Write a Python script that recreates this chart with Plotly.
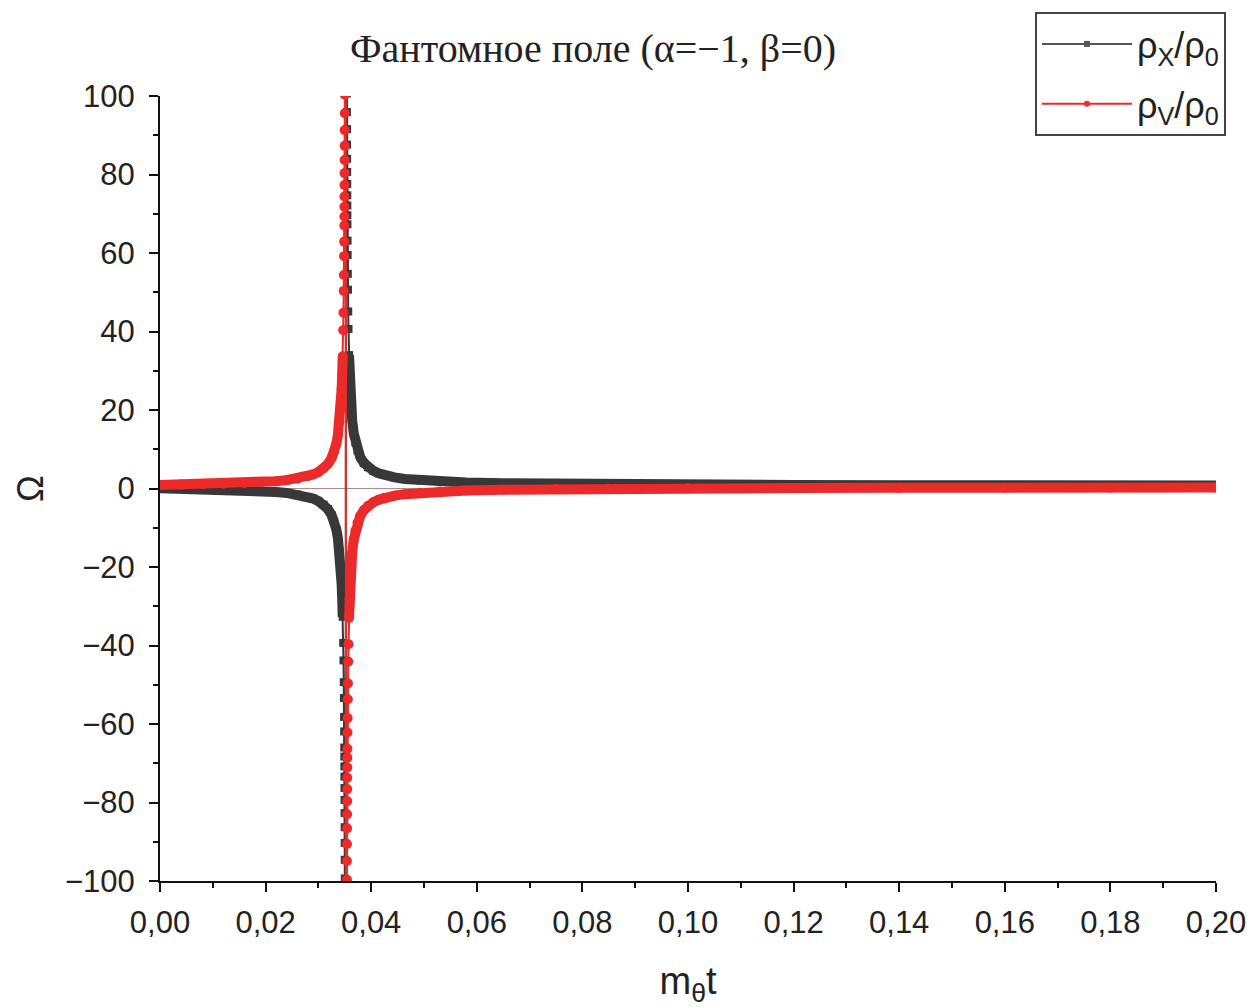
import plotly.graph_objects as go

# ---- data (t = m_theta * t) ----
# left of the pole
t_left = [0.000, 0.004, 0.008, 0.012, 0.016, 0.019, 0.022, 0.024, 0.026, 0.028,
          0.029, 0.030, 0.031, 0.0318, 0.0325, 0.0330, 0.0334, 0.0337, 0.0340, 0.0342,
          0.0344, 0.0345, 0.0346, 0.0347, 0.03475, 0.0348, 0.03483, 0.03486, 0.03488, 0.0349,
          0.03491, 0.03492, 0.03493, 0.03494, 0.03495, 0.03496, 0.03497, 0.03498, 0.03499, 0.0350,
          0.03515]
rhoX_left = [0.08, 0.01, -0.09, -0.21, -0.39, -0.58, -0.87, -1.14, -1.52, -2.13,
             -2.58, -3.20, -4.11, -5.23, -6.76, -8.44, -10.46, -12.68, -16.02, -19.35,
             -24.35, -27.92, -32.68, -39.35, -43.8, -49.35, -53.4, -58.2, -61.9, -66.0,
             -68.3, -70.8, -73.4, -76.3, -79.35, -82.7, -86.3, -90.3, -94.6, -99.35,
             -399.4]
rhoV_left = [0.92, 0.99, 1.09, 1.21, 1.39, 1.58, 1.87, 2.14, 2.52, 3.13,
             3.58, 4.20, 5.11, 6.23, 7.76, 9.44, 11.46, 13.68, 17.02, 20.35,
             25.35, 28.92, 33.68, 40.35, 44.8, 50.35, 54.4, 59.2, 62.9, 67.0,
             69.3, 71.8, 74.4, 77.3, 80.35, 83.7, 87.3, 91.3, 95.6, 100.35,
             400.4]
# right of the pole
t_right = [0.03525, 0.0354, 0.03541, 0.03542, 0.03543, 0.03544, 0.03545, 0.03546, 0.03547, 0.03548,
           0.03549, 0.0355, 0.03552, 0.03554, 0.03557, 0.0356, 0.03565, 0.0357, 0.0358, 0.0359,
           0.0360, 0.0362, 0.0364, 0.0367, 0.0370, 0.0374, 0.0379, 0.0386, 0.0394, 0.0404,
           0.0414, 0.0424, 0.0444, 0.0464, 0.0492, 0.053, 0.058, 0.065, 0.075, 0.085,
           0.100, 0.120, 0.140, 0.160, 0.180, 0.200]
rhoX_right = [400.6, 100.65, 95.9, 91.56, 87.6, 84.0, 80.65, 77.6, 74.7, 72.1,
              69.6, 67.3, 63.15, 59.5, 54.7, 50.65, 45.1, 40.65, 34.0, 29.2,
              25.65, 20.65, 17.3, 14.0, 11.76, 9.74, 8.06, 6.53, 5.41, 4.50,
              3.88, 3.43, 2.82, 2.44, 2.08, 1.77, 1.53, 1.32, 1.15, 1.05,
              0.96, 0.89, 0.84, 0.81, 0.79, 0.77]
rhoV_right = [-399.6, -99.65, -94.9, -90.56, -86.6, -83.0, -79.65, -76.6, -73.7, -71.1,
              -68.6, -66.3, -62.15, -58.5, -53.7, -49.65, -44.1, -39.65, -33.0, -28.2,
              -24.65, -19.65, -16.3, -13.0, -10.76, -8.74, -7.06, -5.53, -4.41, -3.50,
              -2.88, -2.43, -1.82, -1.44, -1.08, -0.77, -0.53, -0.32, -0.15, -0.05,
              0.04, 0.11, 0.16, 0.19, 0.21, 0.23]

x_ticks = [0.00, 0.02, 0.04, 0.06, 0.08, 0.10, 0.12, 0.14, 0.16, 0.18, 0.20]
y_ticks = [-100, -80, -60, -40, -20, 0, 20, 40, 60, 80, 100]

BLACK = "#383838"
RED = "#ec2a2a"
BAND_LIMIT = 36


def band(tl, yl, tr, yr):
    xs, ys = [], []
    for t, y in zip(tl, yl):
        if abs(y) <= BAND_LIMIT:
            xs.append(t); ys.append(y)
    xs.append(None); ys.append(None)
    for t, y in zip(tr, yr):
        if abs(y) <= BAND_LIMIT:
            xs.append(t); ys.append(y)
    return xs, ys


fig = go.Figure()

for tl, yl, tr, yr, col, sym, size in [
    (t_left, rhoX_left, t_right, rhoX_right, BLACK, "square", 8),
    (t_left, rhoV_left, t_right, rhoV_right, RED, "circle", 10),
]:
    bx, by = band(tl, yl, tr, yr)
    fig.add_trace(go.Scatter(x=bx, y=by, mode="lines", line=dict(color=col, width=10),
                             showlegend=False, hoverinfo="skip", connectgaps=False))
    fig.add_trace(go.Scatter(x=tl + tr, y=yl + yr, mode="lines+markers",
                             line=dict(color=col, width=2),
                             marker=dict(color=col, symbol=sym, size=size),
                             showlegend=False))

# legend entries
fig.add_trace(go.Scatter(x=[None], y=[None], mode="lines+markers",
                         name="ρ<sub>X</sub>/ρ<sub>0</sub>", legendgroup="a",
                         line=dict(color="#555555", width=2),
                         marker=dict(color="#555555", symbol="square", size=6)))
fig.add_trace(go.Scatter(x=[None], y=[None], mode="lines+markers",
                         name="ρ<sub>V</sub>/ρ<sub>0</sub>", legendgroup="b",
                         line=dict(color=RED, width=2),
                         marker=dict(color=RED, symbol="circle", size=6)))

TXT = "#222222"
axis_font = dict(family="Liberation Sans, Arial", size=31, color=TXT)

fig.update_layout(
    width=1255, height=1007,
    margin=dict(l=152, r=47, t=88, b=134, autoexpand=False),
    paper_bgcolor="white", plot_bgcolor="white",
    separators=", ",
    title=dict(text="Фантомное поле (α=−1, β=0)",
               font=dict(family="Liberation Serif, Times New Roman", size=40, color=TXT),
               x=585 / 1255, xref="container", xanchor="center",
               y=1 - 40 / 1007, yref="container", yanchor="middle"),
    xaxis=dict(range=[0, 0.2], tickvals=x_ticks, tickformat=".2f",
               showgrid=False, zeroline=False, automargin=False,
               showline=True, linecolor="#111111", linewidth=2,
               ticks="outside", ticklen=9, tickwidth=2, tickcolor="#111111",
               minor=dict(dtick=0.01, ticks="outside", ticklen=5, tickwidth=2, tickcolor="#111111"),
               tickfont=axis_font, ticklabelstandoff=4,
               title=dict(text="m<sub>θ</sub>t", font=dict(family="Liberation Sans, Arial", size=38, color=TXT),
                          standoff=28)),
    yaxis=dict(range=[-100, 100], tickvals=y_ticks, automargin=False,
               showgrid=False, zeroline=True, zerolinecolor="#b08a8a", zerolinewidth=1,
               showline=True, linecolor="#111111", linewidth=2,
               ticks="outside", ticklen=9, tickwidth=2, tickcolor="#111111",
               minor=dict(dtick=10, ticks="outside", ticklen=5, tickwidth=2, tickcolor="#111111"),
               tickfont=axis_font, ticklabelstandoff=8,
               title=dict(text="Ω", font=dict(family="Liberation Sans, Arial", size=36, color=TXT),
                          standoff=10)),
    legend=dict(x=(1035 - 160) / 1056, xanchor="left", y=(881 - 12) / 785, yanchor="top",
                bordercolor="#444444", borderwidth=2, bgcolor="white",
                font=dict(family="Liberation Sans, Arial", size=36, color=TXT),
                itemwidth=90, traceorder="grouped", tracegroupgap=10),
    showlegend=True,
)

fig.write_html("out.html")
